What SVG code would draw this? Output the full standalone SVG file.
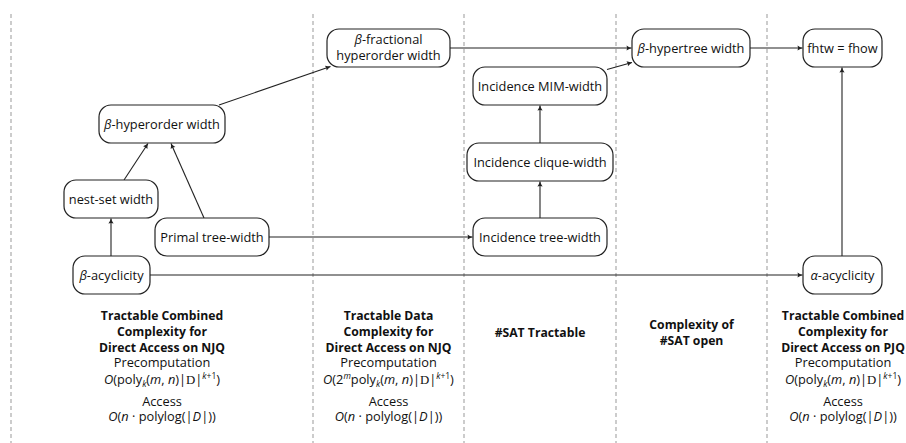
<svg xmlns="http://www.w3.org/2000/svg" width="906" height="443" viewBox="0 0 906 443">
<defs>
<style>
.grid{stroke:#999;stroke-width:1;stroke-dasharray:4 3;fill:none}
.node rect{fill:#fff;stroke:#222;stroke-width:1.2}
.node text{font-family:"Open Sans","Noto Sans",sans-serif;font-size:12.8px;fill:#111;text-anchor:middle}
.edge{stroke:#222;stroke-width:1.1;fill:none}
.arr{marker-end:url(#ah)}
.h{font-family:"Open Sans","Noto Sans",sans-serif;font-size:12.2px;font-weight:bold;fill:#111;text-anchor:middle}
.t{font-family:"Open Sans","Noto Sans",sans-serif;font-size:12.8px;fill:#111;text-anchor:middle}
.i{font-style:italic}
.s{font-family:"Liberation Serif",serif}
.sm{font-size:8.5px}
</style>
<marker id="ah" viewBox="-6 -4 7 8" refX="0" refY="0" markerWidth="7" markerHeight="8" markerUnits="userSpaceOnUse" orient="auto">
<path d="M-5,-2.6 Q-2,-0.6 0,0 Q-2,0.6 -5,2.6 Q-3.8,0 -5,-2.6 Z" fill="#222"/>
</marker>
</defs>
<rect width="906" height="443" fill="#fff"/>
<g id="grid">
<line class="grid" x1="11" y1="14" x2="11" y2="443"/>
<line class="grid" x1="313" y1="14" x2="313" y2="443"/>
<line class="grid" x1="464" y1="14" x2="464" y2="443"/>
<line class="grid" x1="616" y1="14" x2="616" y2="443"/>
<line class="grid" x1="767" y1="14" x2="767" y2="443"/>
</g>
<g id="connectors">
<line class="edge arr" x1="111" y1="256" x2="111" y2="218.5"/>
<line class="edge arr" x1="150" y1="275" x2="802.5" y2="275"/>
<line class="edge arr" x1="269" y1="237" x2="472.5" y2="237"/>
<line class="edge arr" x1="124" y1="180" x2="148" y2="143.5"/>
<line class="edge arr" x1="204" y1="218" x2="171" y2="143.5"/>
<line class="edge arr" x1="219" y1="105" x2="330.5" y2="66.5"/>
<line class="edge arr" x1="540" y1="218" x2="540" y2="181.5"/>
<line class="edge arr" x1="540" y1="143" x2="540" y2="105.5"/>
<line class="edge arr" x1="450" y1="48" x2="631.5" y2="48"/>
<line class="edge arr" x1="607" y1="69.5" x2="632" y2="62.5"/>
<line class="edge arr" x1="750" y1="48" x2="802.5" y2="48"/>
<line class="edge arr" x1="842" y1="256" x2="842" y2="67.5"/>
</g>
<g id="n-bho" class="node"><rect x="99" y="105" width="126" height="38" rx="12"/><text x="162" y="128.5"><tspan class="i">β</tspan>-hyperorder width</text></g>
<g id="n-bfho" class="node"><rect x="327" y="29" width="123" height="38" rx="12"/><text x="388.5" y="44"><tspan class="i">β</tspan>-fractional</text><text x="388.5" y="60">hyperorder width</text></g>
<g id="n-mim" class="node"><rect x="473" y="67" width="134" height="38" rx="12"/><text x="540" y="90.5">Incidence MIM-width</text></g>
<g id="n-clique" class="node"><rect x="467" y="143" width="146" height="38" rx="12"/><text x="540" y="166.5">Incidence clique-width</text></g>
<g id="n-bht" class="node"><rect x="632" y="29" width="118" height="38" rx="12"/><text x="691" y="52.5"><tspan class="i">β</tspan>-hypertree width</text></g>
<g id="n-fhtw" class="node"><rect x="803" y="29" width="79" height="38" rx="12"/><text x="842.5" y="52.5">fhtw = fhow</text></g>
<g id="n-nest" class="node"><rect x="64" y="180" width="94" height="38" rx="12"/><text x="111" y="203.5">nest-set width</text></g>
<g id="n-primal" class="node"><rect x="155" y="218" width="114" height="38" rx="12"/><text x="212" y="241.5">Primal tree-width</text></g>
<g id="n-bacyc" class="node"><rect x="73" y="256" width="77" height="38" rx="12"/><text x="111.5" y="279.5"><tspan class="i">β</tspan>-acyclicity</text></g>
<g id="n-itw" class="node"><rect x="473" y="218" width="134" height="38" rx="12"/><text x="540" y="241.5">Incidence tree-width</text></g>
<g id="n-aacyc" class="node"><rect x="803" y="256" width="79" height="38" rx="12"/><text x="842.5" y="279.5"><tspan class="i">α</tspan>-acyclicity</text></g>
<g id="labels">
<text class="h" x="162" y="320">Tractable Combined</text>
<text class="h" x="162" y="336">Complexity for</text>
<text class="h" x="162" y="352">Direct Access on NJQ</text>
<text class="t" x="162" y="367">Precomputation</text>
<text class="t" x="162" y="384"><tspan class="i">O</tspan>(poly<tspan class="i sm" dy="3">k</tspan><tspan dy="-3">(</tspan><tspan class="i">m</tspan>, <tspan class="i">n</tspan>)|<tspan class="s">D</tspan>|<tspan class="i sm" dy="-5">k</tspan><tspan class="sm">+1</tspan><tspan dy="5">)</tspan></text>
<text class="t" x="162" y="406">Access</text>
<text class="t" x="162" y="421"><tspan class="i">O</tspan>(<tspan class="i">n</tspan> · polylog(|<tspan class="i">D</tspan>|))</text>

<text class="h" x="388.5" y="320">Tractable Data</text>
<text class="h" x="388.5" y="336">Complexity for</text>
<text class="h" x="388.5" y="352">Direct Access on NJQ</text>
<text class="t" x="388.5" y="367">Precomputation</text>
<text class="t" x="388.5" y="384"><tspan class="i">O</tspan>(2<tspan class="i sm" dy="-5">m</tspan><tspan dy="5">poly</tspan><tspan class="i sm" dy="3">k</tspan><tspan dy="-3">(</tspan><tspan class="i">m</tspan>, <tspan class="i">n</tspan>)|<tspan class="s">D</tspan>|<tspan class="i sm" dy="-5">k</tspan><tspan class="sm">+1</tspan><tspan dy="5">)</tspan></text>
<text class="t" x="388.5" y="406">Access</text>
<text class="t" x="388.5" y="421"><tspan class="i">O</tspan>(<tspan class="i">n</tspan> · polylog(|<tspan class="i">D</tspan>|))</text>

<text class="h" x="540" y="337">#SAT Tractable</text>

<text class="h" x="691.5" y="329">Complexity of</text>
<text class="h" x="691.5" y="345">#SAT open</text>

<text class="h" x="843" y="320">Tractable Combined</text>
<text class="h" x="843" y="336">Complexity for</text>
<text class="h" x="843" y="352">Direct Access on PJQ</text>
<text class="t" x="843" y="367">Precomputation</text>
<text class="t" x="843" y="384"><tspan class="i">O</tspan>(poly<tspan class="i sm" dy="3">k</tspan><tspan dy="-3">(</tspan><tspan class="i">m</tspan>, <tspan class="i">n</tspan>)|<tspan class="s">D</tspan>|<tspan class="i sm" dy="-5">k</tspan><tspan class="sm">+1</tspan><tspan dy="5">)</tspan></text>
<text class="t" x="843" y="406">Access</text>
<text class="t" x="843" y="421"><tspan class="i">O</tspan>(<tspan class="i">n</tspan> · polylog(|<tspan class="i">D</tspan>|))</text>
</g>
</svg>
